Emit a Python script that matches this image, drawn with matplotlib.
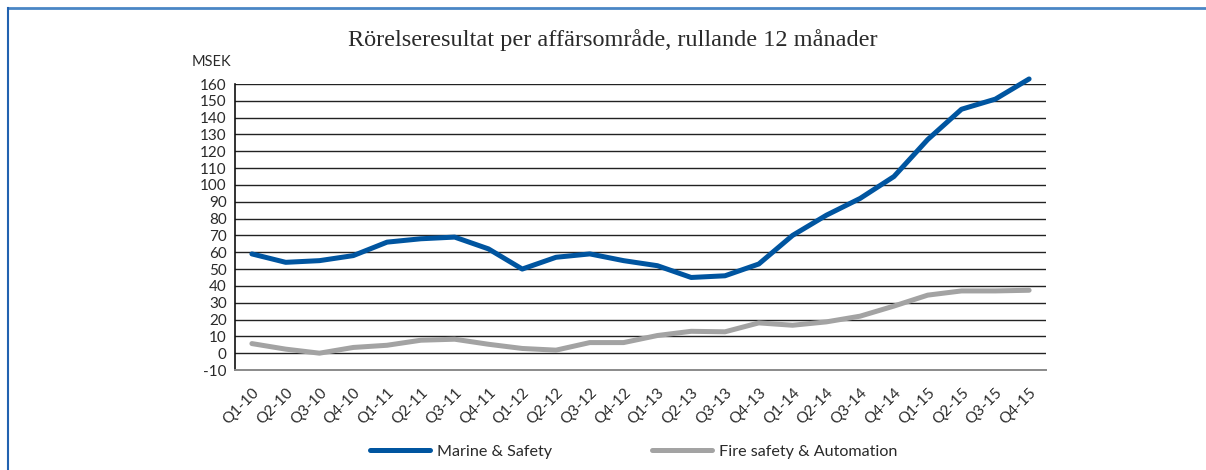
import matplotlib
matplotlib.use("Agg")
import matplotlib.pyplot as plt
from matplotlib.lines import Line2D
import numpy as np

# kvartal
quarters = ["Q1-10", "Q2-10", "Q3-10", "Q4-10",
            "Q1-11", "Q2-11", "Q3-11", "Q4-11",
            "Q1-12", "Q2-12", "Q3-12", "Q4-12",
            "Q1-13", "Q2-13", "Q3-13", "Q4-13",
            "Q1-14", "Q2-14", "Q3-14", "Q4-14",
            "Q1-15", "Q2-15", "Q3-15", "Q4-15"]

marine_safety = [59, 54, 55, 58, 66, 68, 69, 62, 50, 57, 59, 55,
                 52, 45, 46, 53, 70, 82, 92, 105, 127, 145, 151, 163]
fire_automation = [5.7, 2.4, 0, 3.4, 4.7, 7.7, 8.3, 5.3, 2.8, 1.8, 6.3, 6.3,
                   10.5, 13, 12.7, 18, 16.6, 18.6, 22, 28, 34.5, 37, 37, 37.4]

yticks = list(range(-10, 161, 10))

blue = "#0055a0"
gray = "#a3a3a3"
txt = "#2a2a2a"

fig = plt.figure(figsize=(12.06, 4.70), dpi=100)
ax = fig.add_axes([235 / 1206, 1 - 370 / 470, (1046 - 235) / 1206, (370 - 84) / 470])

x = np.arange(len(quarters))
ax.plot(x, marine_safety, color=blue, lw=3.6, solid_capstyle="round",
        solid_joinstyle="round", label="Marine & Safety", zorder=3, clip_on=False)
ax.plot(x, fire_automation, color=gray, lw=3.6, solid_capstyle="round",
        solid_joinstyle="round", label="Fire safety & Automation", zorder=3, clip_on=False)

ax.set_xlim(-0.5, len(quarters) - 0.5)
ax.set_ylim(-10, 160)
ax.set_yticks(yticks)
ax.set_yticklabels([str(v) for v in yticks], fontsize=11, color=txt,
                   family="Lato")
ax.set_xticks(x)
ax.set_xticklabels(quarters, rotation=45, ha="right", rotation_mode="anchor",
                   fontsize=11, color=txt, family="Lato")
ax.tick_params(axis="both", length=0)
ax.tick_params(axis="y", pad=6)
ax.tick_params(axis="x", pad=11)

# gridlinjer
for v in yticks:
    if v == -10:
        continue
    ax.axhline(v, color="#222222", lw=1.0, zorder=1)

for s in ["top", "right"]:
    ax.spines[s].set_visible(False)
ax.spines["left"].set_color("#111111")
ax.spines["left"].set_linewidth(1.2)
ax.spines["bottom"].set_color("#8a8a8a")
ax.spines["bottom"].set_linewidth(1.4)

fig.text(613 / 1206, 1 - 40 / 470, "Rörelseresultat per affärsområde, rullande 12 månader",
         ha="center", va="center", fontsize=17.5, color=txt, family="Liberation Serif")
fig.text(211 / 1206, 1 - 62 / 470, "MSEK", ha="center", va="center",
         fontsize=10.5, color=txt, family="Lato")

fig.legend(loc="center", bbox_to_anchor=(634 / 1206, 1 - 452 / 470), ncol=2,
           frameon=False, handlelength=3.7, columnspacing=6.2, handletextpad=0.45,
           prop={"family": "Lato", "size": 11.6}, labelcolor=txt)

# ram
fig.add_artist(Line2D([8 / 1206, 1], [1 - 8 / 470, 1 - 8 / 470],
                      color="#4a86c5", lw=2, transform=fig.transFigure))
fig.add_artist(Line2D([8 / 1206, 8 / 1206], [0, 1 - 8 / 470],
                      color="#2262b0", lw=1.5, transform=fig.transFigure))

fig.savefig("out.png", dpi=100)
